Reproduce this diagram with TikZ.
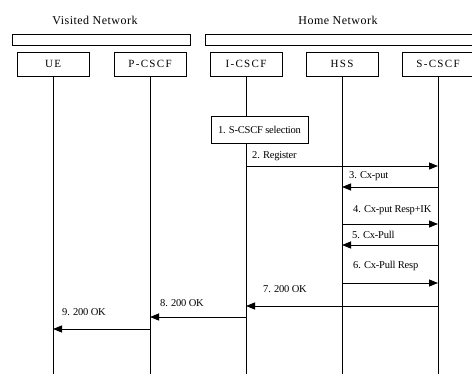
\documentclass[tikz,border=0pt]{standalone}
\usepackage{fontspec}
\setmainfont{Liberation Serif}
\usetikzlibrary{arrows.meta}
\tikzset{
  ent/.style={draw, line width=0.8pt, minimum width=72pt, minimum height=24pt, inner sep=0pt,
    font=\fontsize{11}{12}\selectfont\addfontfeature{LetterSpace=12}},
  bar/.style={draw, line width=0.8pt, minimum height=11pt, inner sep=0pt},
  title/.style={font=\fontsize{12}{13}\selectfont\addfontfeature{LetterSpace=4}},
  life/.style={line width=0.8pt},
  msg/.style={line width=0.8pt, -{Triangle[length=9pt,width=7pt]}},
  lbl/.style={anchor=west, inner sep=0pt, font=\fontsize{10.5}{11}\selectfont\addfontfeature{LetterSpace=-2}},
  proc/.style={draw, line width=0.8pt, minimum width=97pt, minimum height=27pt, inner sep=0pt,
    font=\fontsize{10.5}{11}\selectfont\addfontfeature{LetterSpace=-2}}
}
\begin{document}
\begin{tikzpicture}[x=1pt,y=-1pt]
\useasboundingbox (0,0) rectangle (472,374);
\clip (0,0) rectangle (472,374);
\node[title] (vtitle) at (95,20) {Visited Network};
\node[title] (htitle) at (338,20) {Home Network};
\node[bar, minimum width=178pt] (vbar) at (101.5,40) {};
\node[bar, minimum width=290pt] (hbar) at (350,40) {};
\node[ent] (ue) at (53,64) {UE};
\node[ent] (pcscf) at (150,64) {P-CSCF};
\node[ent] (icscf) at (246,64) {I-CSCF};
\node[ent] (hss) at (342,64) {HSS};
\node[ent] (scscf) at (438,64) {S-CSCF};
\coordinate (bot) at (0,380);
\node[proc] (sel) at (259.5,129.5) {1. S-CSCF selection};
\draw[life] (ue.south) -- (ue |- bot);
\draw[life] (pcscf.south) -- (pcscf |- bot);
\draw[life] (icscf.south) -- (sel.north -| icscf);
\draw[life] (sel.south -| icscf) -- (icscf |- bot);
\draw[life] (hss.south) -- (hss |- bot);
\draw[life] (scscf.south) -- (scscf |- bot);
\coordinate (y2) at (0,166);
\coordinate (y3) at (0,187);
\coordinate (y4) at (0,224);
\coordinate (y5) at (0,245);
\coordinate (y6) at (0,283);
\coordinate (y7) at (0,306);
\coordinate (y8) at (0,317);
\coordinate (y9) at (0,329);
\draw[msg] (icscf |- y2) -- (scscf |- y2);
\draw[msg] (scscf |- y3) -- (hss |- y3);
\draw[msg] (hss |- y4) -- (scscf |- y4);
\draw[msg] (scscf |- y5) -- (hss |- y5);
\draw[msg] (hss |- y6) -- (scscf |- y6);
\draw[msg] (scscf |- y7) -- (icscf |- y7);
\draw[msg] (icscf |- y8) -- (pcscf |- y8);
\draw[msg] (pcscf |- y9) -- (ue |- y9);
\node[lbl] (l2) at (252,156) {2. Register};
\node[lbl] (l3) at (349,176) {3. Cx-put};
\node[lbl] (l4) at (353,210) {4. Cx-put Resp+IK};
\node[lbl] (l5) at (352,235) {5. Cx-Pull};
\node[lbl] (l6) at (353,266) {6. Cx-Pull Resp};
\node[lbl] (l7) at (263,289) {7. 200 OK};
\node[lbl] (l8) at (160,303) {8. 200 OK};
\node[lbl] (l9) at (62,312) {9. 200 OK};
\end{tikzpicture}
\end{document}
